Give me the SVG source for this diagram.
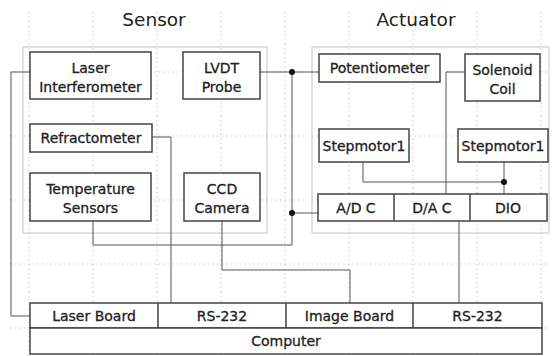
<svg xmlns="http://www.w3.org/2000/svg" width="552" height="356" viewBox="0 0 552 356">
<style>
.grid{stroke:#c8c8c8;stroke-width:1;stroke-dasharray:1.5 3;fill:none}
.grp{fill:none;stroke:#c4c4c4;stroke-width:1}
.box{fill:#fff;stroke:#444;stroke-width:1.5}
.t{font-family:"DejaVu Sans",sans-serif;font-size:14px;fill:#222;stroke:#222;stroke-width:0.3;text-anchor:middle}
.h{font-family:"DejaVu Sans",sans-serif;font-size:18.5px;fill:#222;text-anchor:middle}
.c{fill:none;stroke:#555;stroke-width:1}
.dot{fill:#111}
</style>
<rect width="552" height="356" fill="#fff"/>
<g id="grid">
<path class="grid" d="M29 12V356M93 12V356M157 12V356M221 12V356M285 12V356M349 12V356M413 12V356M477 12V356M541 12V356"/>
<path class="grid" d="M10 72H548M10 136H548M10 200H548M10 264H548M10 328H548"/>
</g>
<g id="sensor-group">
<rect class="grp" x="23" y="47" width="244" height="186"/>
<text class="h" x="154" y="26">Sensor</text>
</g>
<g id="actuator-group">
<rect class="grp" x="312" y="47" width="237" height="186"/>
<text class="h" x="416" y="26">Actuator</text>
</g>
<g id="connectors">
<path class="c" d="M30 72H11V316H30"/>
<path class="c" d="M152 137H171V303"/>
<path class="c" d="M260 72H319"/>
<path class="c" d="M292 72V245H93V221"/>
<path class="c" d="M292 213H318"/>
<path class="c" d="M222 221V270H350V303"/>
<path class="c" d="M465 72H446V194"/>
<path class="c" d="M363 162V182H504"/>
<path class="c" d="M504 162V194"/>
<path class="c" d="M459 221V303"/>
<circle class="dot" cx="292" cy="72" r="3"/>
<circle class="dot" cx="292" cy="213" r="3"/>
<circle class="dot" cx="504" cy="182" r="3"/>
</g>
<g id="laser-interferometer">
<rect class="box" x="30" y="52" width="121" height="47"/>
<text class="t" x="90.5" y="73">Laser</text>
<text class="t" x="90.5" y="92">Interferometer</text>
</g>
<g id="lvdt-probe">
<rect class="box" x="183" y="52" width="77" height="47"/>
<text class="t" x="221.5" y="73">LVDT</text>
<text class="t" x="221.5" y="92">Probe</text>
</g>
<g id="refractometer">
<rect class="box" x="30" y="124" width="122" height="28"/>
<text class="t" x="91" y="143">Refractometer</text>
</g>
<g id="temperature-sensors">
<rect class="box" x="30" y="173" width="121" height="48"/>
<text class="t" x="90.5" y="194">Temperature</text>
<text class="t" x="90.5" y="213">Sensors</text>
</g>
<g id="ccd-camera">
<rect class="box" x="184" y="173" width="76" height="48"/>
<text class="t" x="222" y="194">CCD</text>
<text class="t" x="222" y="213">Camera</text>
</g>
<g id="potentiometer">
<rect class="box" x="319" y="54" width="121" height="28"/>
<text class="t" x="379.5" y="73">Potentiometer</text>
</g>
<g id="solenoid-coil">
<rect class="box" x="465" y="54" width="75" height="47"/>
<text class="t" x="502.5" y="75">Solenoid</text>
<text class="t" x="502.5" y="94">Coil</text>
</g>
<g id="stepmotor1-left">
<rect class="box" x="319" y="129" width="90" height="33"/>
<text class="t" x="364" y="150.5">Stepmotor1</text>
</g>
<g id="stepmotor1-right">
<rect class="box" x="458" y="129" width="90" height="33"/>
<text class="t" x="503" y="150.5">Stepmotor1</text>
</g>
<g id="io-board">
<rect class="box" x="318" y="194" width="229" height="27"/>
<path class="box" d="M394 194V221M470 194V221"/>
<text class="t" x="356" y="212.5">A/D C</text>
<text class="t" x="432" y="212.5">D/A C</text>
<text class="t" x="508" y="212.5">DIO</text>
</g>
<g id="computer">
<rect class="box" x="30" y="303" width="512" height="25"/>
<path class="box" d="M158 303V328M286 303V328M413 303V328"/>
<rect class="box" x="30" y="328" width="512" height="26"/>
<text class="t" x="94" y="320.5">Laser Board</text>
<text class="t" x="222" y="320.5">RS-232</text>
<text class="t" x="349.5" y="320.5">Image Board</text>
<text class="t" x="477.5" y="320.5">RS-232</text>
<text class="t" x="286" y="346">Computer</text>
</g>
</svg>
